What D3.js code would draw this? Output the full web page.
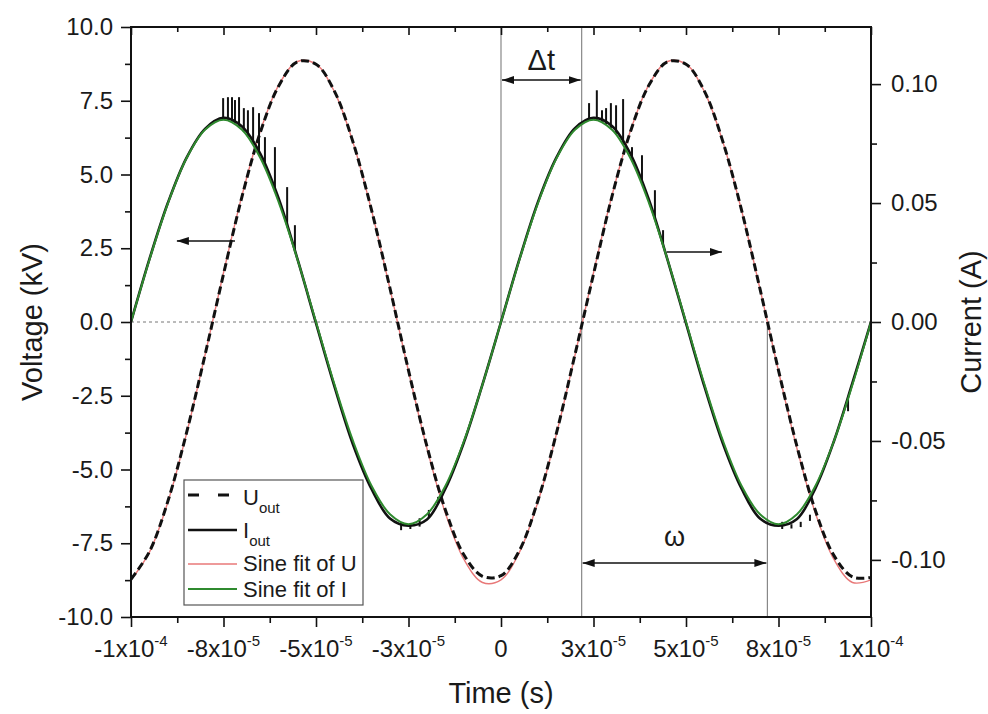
<!DOCTYPE html>
<html><head><meta charset="utf-8">
<script src="https://cdn.jsdelivr.net/npm/d3@7"></script>
<style>
body{margin:0;background:#fff}
text{font-family:"Liberation Sans",Arial,sans-serif;fill:#1a1a1a}
</style>
</head><body>
<svg id="c" width="988" height="714"></svg>
<script>
// ---------- data ----------
const timeMin = -1e-4, timeMax = 1e-4, timeStep = 5e-6;
const vMin = -10, vMax = 10;          // Voltage axis (kV)
const cMin = -0.124, cMax = 0.124;    // Current axis (A)

// measured output voltage (kV), every 5 µs from -100 µs
const uOut = [-8.72,-7.78,-6.06,-3.76,-1.12,1.62,4.25,6.45,8.02,8.82,8.74,7.82,6.10,3.80,1.14,-1.64,-4.22,-6.38,-7.90,-8.62,
              -8.60,-7.74,-6.04,-3.76,-1.10,1.62,4.26,6.46,8.03,8.82,8.74,7.82,6.10,3.80,1.12,-1.64,-4.22,-6.40,-7.92,-8.64,-8.66];
// measured output current (A)
const iOut = [0.0000,0.0265,0.0502,0.0690,0.0812,0.0858,0.0822,0.0706,0.0515,0.0264,-0.0005,-0.0272,-0.0515,-0.0702,-0.0826,-0.0856,-0.0830,-0.0700,-0.0505,-0.0262,
              0.0000,0.0265,0.0505,0.0692,0.0815,0.0858,0.0824,0.0706,0.0513,0.0262,-0.0005,-0.0272,-0.0512,-0.0700,-0.0826,-0.0856,-0.0828,-0.0698,-0.0500,-0.0255,0.0000];
// sine fit of U (kV)
const uFit = [-8.74,-7.80,-6.09,-3.79,-1.12,1.67,4.29,6.49,8.05,8.83,8.74,7.80,6.09,3.79,1.12,-1.67,-4.29,-6.49,-8.05,-8.83,
              -8.74,-7.80,-6.09,-3.79,-1.12,1.67,4.29,6.49,8.05,8.83,8.74,7.80,6.09,3.79,1.12,-1.67,-4.29,-6.49,-8.05,-8.83,-8.74];
// sine fit of I (A)
const iFit = [0,0.0263,0.0500,0.0688,0.0808,0.0850,0.0808,0.0688,0.0500,0.0263,0,-0.0263,-0.0500,-0.0688,-0.0808,-0.0850,-0.0808,-0.0688,-0.0500,-0.0263,
              0,0.0263,0.0500,0.0688,0.0808,0.0850,0.0808,0.0688,0.0500,0.0263,0,-0.0263,-0.0500,-0.0688,-0.0808,-0.0850,-0.0808,-0.0688,-0.0500,-0.0263,0];
// noise spikes on the current trace: [time (s), from (A), to (A)]
const iSpikes = [
  [-75.1e-6,0.0850,0.0941],[-73.8e-6,0.0848,0.0945],[-72.7e-6,0.0841,0.0945],[-71.9e-6,0.0834,0.0933],
  [-70.8e-6,0.0820,0.0945],[-69.5e-6,0.0800,0.0899],[-68.4e-6,0.0778,0.0890],[-67.0e-6,0.0745,0.0903],
  [-65.4e-6,0.0700,0.0878],[-63.8e-6,0.0649,0.0777],[-61.1e-6,0.0546,0.0735],[-57.8e-6,0.0399,0.0567],
  [-55.7e-6,0.0293,0.0407],
  [23.8e-6,0.0848,0.0920],[25.9e-6,0.0849,0.0974],[27.3e-6,0.0841,0.0890],[28.4e-6,0.0831,0.0899],
  [29.7e-6,0.0813,0.0920],[31.1e-6,0.0788,0.0911],[33.0e-6,0.0745,0.0937],[35.4e-6,0.0675,0.0735],
  [38.1e-6,0.0577,0.0701],[41.6e-6,0.0428,0.0554],[43.8e-6,0.0323,0.0386],
  [-27.0e-6,-0.0845,-0.0875],[-24.5e-6,-0.0850,-0.0870],[-22.0e-6,-0.0825,-0.0860],[-19.5e-6,-0.0790,-0.0822],[-17.0e-6,-0.0735,-0.0762],
  [76.0e-6,-0.0840,-0.0870],[78.5e-6,-0.0850,-0.0868],[81.0e-6,-0.0840,-0.0862],[83.5e-6,-0.0810,-0.0836],
  [93.8e-6,-0.0323,-0.0375]
];
// axis ticks
const xTicks = [-1e-4,-7.5e-5,-5e-5,-2.5e-5,0,2.5e-5,5e-5,7.5e-5,1e-4];
const xTickMant = ["-1x10","-8x10","-5x10","-3x10","0","3x10","5x10","8x10","1x10"];
const xTickExp  = ["-4","-5","-5","-5","","-5","-5","-5","-4"];
const xMinor = [-8.75e-5,-6.25e-5,-3.75e-5,-1.25e-5,1.25e-5,3.75e-5,6.25e-5,8.75e-5];
const vTicks = [-10,-7.5,-5,-2.5,0,2.5,5,7.5,10];
const vMinor = [-8.75,-6.25,-3.75,-1.25,1.25,3.75,6.25,8.75];
const cTicks = [-0.10,-0.05,0,0.05,0.10];
const cMinor = [-0.075,-0.025,0.025,0.075];
// annotation times
const tZero = 0, tDelta = 2.18e-5, tOmega = 7.2e-5;

// ---------- chart ----------
const X0 = 131, X1 = 871, Y0 = 27, Y1 = 617;
const svg = d3.select("#c");
const x = d3.scaleLinear().domain([timeMin, timeMax]).range([X0, X1]);
const yV = d3.scaleLinear().domain([vMin, vMax]).range([Y1, Y0]);
const yC = d3.scaleLinear().domain([cMin, cMax]).range([Y1, Y0]);
const times = uOut.map((_, i) => timeMin + i * timeStep);

const defs = svg.append("defs");
defs.append("clipPath").attr("id","clip").append("rect")
  .attr("x",X0).attr("y",Y0).attr("width",X1-X0).attr("height",Y1-Y0);
defs.append("marker").attr("id","ah").attr("viewBox","0 0 12 10")
  .attr("refX",12).attr("refY",5).attr("markerWidth",12).attr("markerHeight",10)
  .attr("markerUnits","userSpaceOnUse").attr("orient","auto-start-reverse")
  .append("path").attr("d","M0,1 L12,5 L0,9 Z").attr("fill","#111");

// zero dotted line
svg.append("line").attr("x1",X0).attr("x2",X1).attr("y1",yV(0)).attr("y2",yV(0))
  .attr("stroke","#777").attr("stroke-width",1).attr("stroke-dasharray","3,3");

// vertical marker lines
svg.append("line").attr("x1",x(tZero)).attr("x2",x(tZero)).attr("y1",Y0).attr("y2",yV(0))
  .attr("stroke","#888").attr("stroke-width",1.2);
svg.append("line").attr("x1",x(tDelta)).attr("x2",x(tDelta)).attr("y1",Y0).attr("y2",Y1)
  .attr("stroke","#888").attr("stroke-width",1.2);
svg.append("line").attr("x1",x(tOmega)).attr("x2",x(tOmega)).attr("y1",yV(0)).attr("y2",Y1)
  .attr("stroke","#888").attr("stroke-width",1.2);

const plot = svg.append("g").attr("clip-path","url(#clip)");
const crv = d3.curveCatmullRom.alpha(0.5);
const lineV = d3.line().x((d,i)=>x(times[i])).y(d=>yV(d)).curve(crv);
const lineC = d3.line().x((d,i)=>x(times[i])).y(d=>yC(d)).curve(crv);

plot.append("path").attr("d",lineV(uFit)).attr("fill","none").attr("stroke","#e87878").attr("stroke-width",1.4);
plot.append("path").attr("d",lineV(uOut)).attr("fill","none").attr("stroke","#111").attr("stroke-width",3)
  .attr("stroke-dasharray","8,4");
plot.append("path").attr("d",lineC(iOut)).attr("fill","none").attr("stroke","#111").attr("stroke-width",2.6);
plot.selectAll(".spk").data(iSpikes).enter().append("line")
  .attr("x1",d=>x(d[0])).attr("x2",d=>x(d[0])).attr("y1",d=>yC(d[1])).attr("y2",d=>yC(d[2]))
  .attr("stroke","#111").attr("stroke-width",2);
plot.append("path").attr("d",lineC(iFit)).attr("fill","none").attr("stroke","#2f8a2f").attr("stroke-width",2);

// frame
svg.append("rect").attr("x",X0).attr("y",Y0).attr("width",X1-X0).attr("height",Y1-Y0)
  .attr("fill","none").attr("stroke","#111").attr("stroke-width",2);

// axes
function clean(g){ g.select(".domain").remove(); g.selectAll("line").attr("stroke","#111").attr("stroke-width",1.6); }
const FS = "24px";
const hy = f => (d => f(d).replace("\u2212","-"));
svg.append("g").attr("transform",`translate(${X0},0)`)
  .call(d3.axisLeft(yV).tickValues(vMinor).tickSize(6).tickFormat("")).call(clean);
svg.append("g").attr("transform",`translate(${X0},0)`)
  .call(d3.axisLeft(yV).tickValues(vTicks).tickSize(10).tickPadding(8).tickFormat(hy(d3.format(".1f"))))
  .call(clean).selectAll("text").attr("font-size",FS).attr("font-family","Liberation Sans, Arial").attr("fill","#1a1a1a");
svg.append("g").attr("transform",`translate(${X1},0)`)
  .call(d3.axisRight(yC).tickValues(cMinor).tickSize(6).tickFormat("")).call(clean);
svg.append("g").attr("transform",`translate(${X1},0)`)
  .call(d3.axisRight(yC).tickValues(cTicks).tickSize(10).tickPadding(10).tickFormat(hy(d3.format(".2f"))))
  .call(clean).selectAll("text").attr("font-size",FS).attr("font-family","Liberation Sans, Arial").attr("fill","#1a1a1a");
svg.append("g").attr("transform",`translate(0,${Y1})`)
  .call(d3.axisBottom(x).tickValues(xMinor).tickSize(6).tickFormat("")).call(clean);
svg.append("g").attr("transform",`translate(0,${Y1})`)
  .call(d3.axisBottom(x).tickValues(xTicks).tickSize(10).tickFormat("")).call(clean);
svg.append("g").attr("transform",`translate(0,${Y0})`)
  .call(d3.axisBottom(x).tickValues(xMinor).tickSize(5).tickFormat("")).call(clean);
svg.append("g").attr("transform",`translate(0,${Y0})`)
  .call(d3.axisBottom(x).tickValues(xTicks).tickSize(8).tickFormat("")).call(clean);

// x tick labels with superscripts
const xl = svg.append("g");
xTicks.forEach((t,i)=>{
  const tx = xl.append("text").attr("x",x(t)).attr("y",Y1+40).attr("text-anchor","middle").attr("font-size",FS);
  tx.append("tspan").text(xTickMant[i]);
  if (xTickExp[i]) tx.append("tspan").attr("dy",-11).attr("font-size","15px").text(xTickExp[i]);
});

// axis titles
svg.append("text").attr("x",(X0+X1)/2).attr("y",703).attr("text-anchor","middle").attr("font-size","29px").text("Time (s)");
svg.append("text").attr("transform",`translate(42,${yV(0)}) rotate(-90)`).attr("text-anchor","middle")
  .attr("font-size","29px").text("Voltage (kV)");
svg.append("text").attr("transform",`translate(981,${yV(0)}) rotate(-90)`).attr("text-anchor","middle")
  .attr("font-size","29px").text("Current (A)");

// annotations: Δt and ω
function arrow(xa, ya, xb, yb, both){
  const l = svg.append("line").attr("x1",xa).attr("y1",ya).attr("x2",xb).attr("y2",yb)
    .attr("stroke","#111").attr("stroke-width",1.5).attr("marker-end","url(#ah)");
  if (both) l.attr("marker-start","url(#ah)");
}
arrow(x(tZero)+1, yV(8.2), x(tDelta)-1, yV(8.2), true);
svg.append("text").attr("x",(x(tZero)+x(tDelta))/2).attr("y",yV(8.55)).attr("text-anchor","middle")
  .attr("font-size","29px").text("Δt");
arrow(x(tDelta)+1, yV(-8.17), x(tOmega)-1, yV(-8.17), true);
svg.append("text").attr("x",(x(tDelta)+x(tOmega))/2).attr("y",yV(-7.6)).attr("text-anchor","middle")
  .attr("font-size","27px").attr("font-family","Liberation Serif, serif").text("ω");
// axis-pointing arrows
arrow(x(-71.9e-6), yV(2.75), x(-87.6e-6), yV(2.75), false);
arrow(x(44.8e-6), yV(2.37), x(59.7e-6), yV(2.37), false);

// legend
const lg = svg.append("g");
lg.append("rect").attr("x",184).attr("y",480).attr("width",179).attr("height",125)
  .attr("fill","#fff").attr("stroke","#555").attr("stroke-width",1.2);
const legendItems = [
  {main:"U", sub:"out", color:"#111", w:3, dash:"11,19", ly:495, ty:505},
  {main:"I", sub:"out", color:"#111", w:2.6, dash:null, ly:530, ty:538},
  {main:"Sine fit of U", sub:"", color:"#e87878", w:1.6, dash:null, ly:564, ty:571},
  {main:"Sine fit of I", sub:"", color:"#2f8a2f", w:2, dash:null, ly:589, ty:597}
];
legendItems.forEach(d=>{
  const ln = lg.append("line").attr("x1",188).attr("x2",237).attr("y1",d.ly).attr("y2",d.ly)
    .attr("stroke",d.color).attr("stroke-width",d.w);
  if (d.dash) ln.attr("stroke-dasharray",d.dash);
  const t = lg.append("text").attr("x",243).attr("y",d.ty).attr("font-size","22px");
  t.append("tspan").text(d.main);
  if (d.sub) t.append("tspan").attr("dy",8).attr("font-size","15px").text(d.sub);
});
</script>
</body></html>
